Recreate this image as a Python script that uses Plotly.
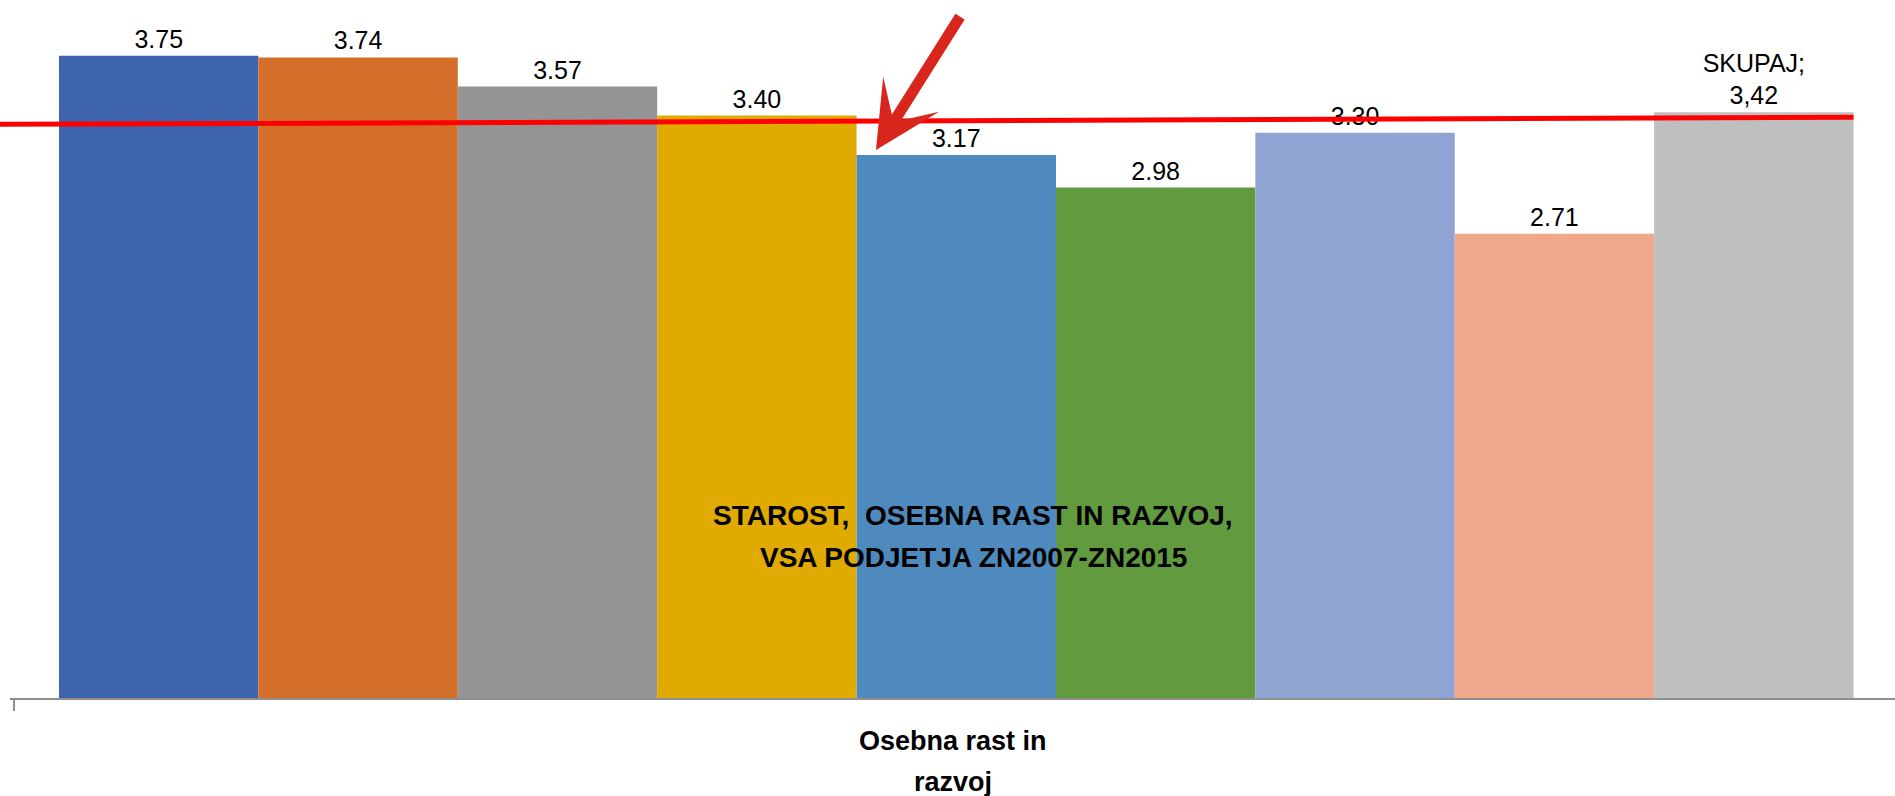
import plotly.graph_objects as go

# -----------------------------
# Data
# -----------------------------
CATEGORY = ["Osebna rast in", "razvoj"]          # x-axis label (two lines)
SERIES = ["s1", "s2", "s3", "s4", "s5", "s6", "s7", "s8", "SKUPAJ"]
VALUES = [3.75, 3.74, 3.57, 3.40, 3.17, 2.98, 3.30, 2.71, 3.42]
LABELS = ["3.75", "3.74", "3.57", "3.40", "3.17", "2.98", "3.30", "2.71", "SKUPAJ;<br>3,42"]
COLORS = ["#3D64AD", "#D36E2B", "#949494", "#E1AA00", "#4F8ABE",
          "#629A3F", "#90A4D4", "#F0A88A", "#BFBFBF"]
TITLE_LINES = ["STAROST,  OSEBNA RAST IN RAZVOJ,", "VSA PODJETJA ZN2007-ZN2015"]
REF_LINE = [3.349, 3.390]   # red reference line (left, right)

FONT = "Liberation Sans"

fig = go.Figure()
cat = " ".join(CATEGORY)
for name, v, lab, col in zip(SERIES, VALUES, LABELS, COLORS):
    fig.add_trace(go.Bar(
        x=[cat], y=[v], name=name, marker=dict(color=col, line=dict(width=0)),
        text=[lab], textposition="outside", cliponaxis=False,
        textfont=dict(family=FONT, size=25, color="#000000"),
    ))

# red line drawn across the chart
fig.add_shape(type="line", xref="paper", yref="y",
              x0=-0.006, x1=0.978, y0=REF_LINE[0], y1=REF_LINE[1],
              line=dict(color="#FF0000", width=5), layer="above")

# red arrow pointing at the 5th bar
fig.add_annotation(xref="paper", yref="paper", x=0.4594, y=0.785,
                   ax=85, ay=-135, text="", showarrow=True,
                   arrowhead=3, arrowsize=1, arrowwidth=11, arrowcolor="#D9261C")

# title inside plot
for txt, yy in zip(TITLE_LINES, [0.262, 0.202]):
    fig.add_annotation(xref="paper", yref="paper", x=0.511, y=yy, text="<b>%s</b>" % txt,
                       showarrow=False, xanchor="center", yanchor="middle",
                       font=dict(family=FONT, size=28, color="#000000"))

# category label under the axis
for txt, yy in zip(CATEGORY, [-0.062, -0.12]):
    fig.add_annotation(xref="paper", yref="paper", x=0.5, y=yy, text="<b>%s</b>" % txt,
                       showarrow=False, xanchor="center", yanchor="middle",
                       font=dict(family=FONT, size=27, color="#000000"))

fig.update_layout(
    width=1895, height=796,
    margin=dict(l=10, r=0, t=0, b=98),
    barmode="group", bargap=0.048, bargroupgap=0,
    plot_bgcolor="white", paper_bgcolor="white",
    showlegend=False,
    xaxis=dict(showticklabels=False, showline=True, linecolor="#8E8E8E", linewidth=2,
               ticks="outside", tickson="boundaries", ticklen=11, tickcolor="#8E8E8E",
               tickwidth=2, showgrid=False, range=[-0.502, 0.498]),
    yaxis=dict(range=[0, 4.075], visible=False, showgrid=False, zeroline=False),
)

fig.write_html("out.html", config={"displayModeBar": False},
               post_script="document.body.style.margin='0';document.body.style.overflow='hidden';")
